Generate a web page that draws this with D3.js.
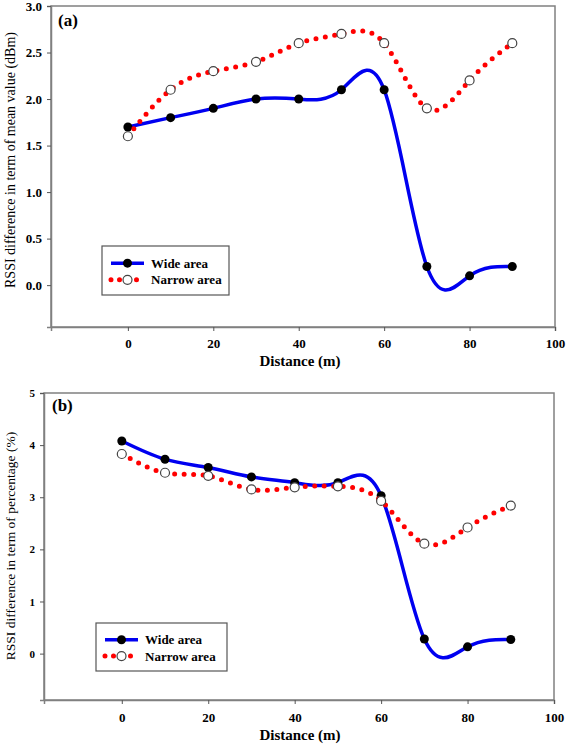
<!DOCTYPE html>
<html>
<head>
<meta charset="utf-8">
<script src="https://cdn.jsdelivr.net/npm/d3@7"></script>
<style>
  html, body { margin: 0; padding: 0; background: #fff; }
  svg { display: block; }
</style>
</head>
<body>
<svg id="chart" width="567" height="746"></svg>
<script>
// ---- Data ----
const distance = [0, 10, 20, 30, 40, 50, 60, 70, 80, 90];
const xTicks = [0, 20, 40, 60, 80, 100];

const wideA = [1.7, 1.8, 1.9, 2.0, 2.0, 2.1, 2.1, 0.2, 0.1, 0.2];
const narrowA = [1.6, 2.1, 2.3, 2.4, 2.6, 2.7, 2.6, 1.9, 2.2, 2.6];
const yTicksA = [0, 0.5, 1.0, 1.5, 2.0, 2.5, 3.0];

const wideB = [4.08, 3.73, 3.57, 3.39, 3.28, 3.28, 3.03, 0.28, 0.13, 0.27];
const narrowB = [3.83, 3.47, 3.41, 3.15, 3.19, 3.21, 2.93, 2.11, 2.42, 2.84];
const yTicksB = [0, 1, 2, 3, 4, 5];

const seriesNames = ["Wide area", "Narrow area"];
const xTitle = "Distance (m)";

const svg = d3.select("#chart");
const FONT = "'Liberation Serif', 'Times New Roman', serif";

function drawPanel(cfg) {
  const g = svg.append("g");
  const x = d3.scaleLinear().domain([-18, 100]).range([cfg.left, cfg.right]);
  const y = d3.scaleLinear().domain(cfg.yDomain).range([cfg.bottom, cfg.top]);

  // frame
  g.append("rect")
    .attr("x", cfg.left).attr("y", cfg.top)
    .attr("width", cfg.right - cfg.left).attr("height", cfg.bottom - cfg.top)
    .attr("fill", "none").attr("stroke", "#808080").attr("stroke-width", 1.5);

  // axes
  const yAxis = d3.axisLeft(y).tickValues(cfg.yTicks).tickSize(4).tickPadding(5)
    .tickFormat(cfg.yFormat);
  const ya = g.append("g").attr("transform", `translate(${cfg.left},0)`).call(yAxis);
  const xAxis = d3.axisBottom(x).tickValues(xTicks).tickSize(4).tickPadding(cfg.xPad)
    .tickFormat(d3.format("d"));
  const xa = g.append("g").attr("transform", `translate(0,${cfg.bottom})`).call(xAxis);
  [ya, xa].forEach(a => {
    a.select(".domain").attr("stroke", "#808080").attr("stroke-width", 1.5);
    a.selectAll(".tick line").attr("stroke", "#555").attr("stroke-width", 1);
    a.selectAll(".tick text").attr("fill", "#000")
      .style("font-family", FONT).style("font-weight", "bold");
  });
  ya.selectAll(".tick text").style("font-size", cfg.yFont + "px");
  xa.selectAll(".tick text").style("font-size", "13px");

  // titles
  g.append("text")
    .attr("x", 300).attr("y", cfg.xTitleY)
    .attr("text-anchor", "middle")
    .style("font-family", FONT).style("font-weight", "bold").style("font-size", "15px")
    .text(xTitle);
  g.append("text")
    .attr("transform", `translate(${cfg.yTitleX},${cfg.yTitleY}) rotate(-90)`)
    .attr("text-anchor", "middle")
    .style("font-family", FONT).style("font-size", cfg.yTitleFont + "px")
    .text(cfg.yTitle);
  g.append("text")
    .attr("x", cfg.labelX).attr("y", cfg.labelY)
    .style("font-family", FONT).style("font-weight", "bold").style("font-size", "17px")
    .text(cfg.label);

  const line = d3.line().curve(d3.curveNatural)
    .x((d, i) => x(distance[i])).y(d => y(d));

  // wide
  g.append("path").datum(cfg.wide).attr("d", line)
    .attr("fill", "none").attr("stroke", "#0000f0").attr("stroke-width", 3.5);
  g.selectAll(".wm").data(cfg.wide).enter().append("circle")
    .attr("cx", (d, i) => x(distance[i])).attr("cy", d => y(d)).attr("r", 4.5)
    .attr("fill", "#000");
  // narrow
  g.append("path").datum(cfg.narrow).attr("d", line)
    .attr("fill", "none").attr("stroke", "#ff0000").attr("stroke-width", 5)
    .attr("stroke-linecap", "round").attr("stroke-dasharray", "0 9.5");
  g.selectAll(".nm").data(cfg.narrow).enter().append("circle")
    .attr("cx", (d, i) => x(distance[i])).attr("cy", d => y(d)).attr("r", 4.5)
    .attr("fill", "#fff").attr("stroke", "#444").attr("stroke-width", 1.2);

  // legend
  const L = cfg.legend;
  g.append("rect").attr("x", L.x).attr("y", L.y).attr("width", L.w).attr("height", L.h)
    .attr("fill", "#fff").attr("stroke", "#555").attr("stroke-width", 1.2);
  const ly1 = L.y + L.h * 0.35, ly2 = L.y + L.h * 0.69;
  const lx0 = L.x + 9, lx1 = L.x + 42, lm = (lx0 + lx1) / 2;
  g.append("line").attr("x1", lx0).attr("x2", lx1).attr("y1", ly1).attr("y2", ly1)
    .attr("stroke", "#0000f0").attr("stroke-width", 3.5);
  g.append("circle").attr("cx", lm).attr("cy", ly1).attr("r", 4.5).attr("fill", "#000");
  g.append("line").attr("x1", lx0).attr("x2", lx1 + 1).attr("y1", ly2).attr("y2", ly2)
    .attr("stroke", "#ff0000").attr("stroke-width", 5)
    .attr("stroke-linecap", "round").attr("stroke-dasharray", "0 8.5");
  g.append("circle").attr("cx", lm).attr("cy", ly2).attr("r", 4.5)
    .attr("fill", "#fff").attr("stroke", "#444").attr("stroke-width", 1.2);
  [seriesNames[0], seriesNames[1]].forEach((t, i) => {
    g.append("text").attr("x", lx1 + 7).attr("y", i === 0 ? ly1 : ly2).attr("dy", "0.35em")
      .style("font-family", FONT).style("font-weight", "bold").style("font-size", "13px")
      .text(t);
  });
}

drawPanel({
  left: 51, right: 555, top: 6, bottom: 327,
  yDomain: [-0.45, 3.0], yTicks: yTicksA, yFormat: d3.format(".1f"), yFont: 13,
  xPad: 8, xTitleY: 366, yTitleX: 15, yTitleY: 160, yTitleFont: 14,
  yTitle: "RSSI difference in term of mean value (dBm)", label: "(a)",
  labelX: 58, labelY: 26,
  wide: wideA, narrow: narrowA,
  legend: { x: 102, y: 246, w: 127, h: 49 }
});
drawPanel({
  left: 44, right: 554, top: 393, bottom: 700,
  yDomain: [-0.89, 5], yTicks: yTicksB, yFormat: d3.format("d"), yFont: 11,
  xPad: 9, xTitleY: 740, yTitleX: 15, yTitleY: 546, yTitleFont: 13.5,
  yTitle: "RSSI difference in term of percentage (%)", label: "(b)",
  labelX: 52, labelY: 411,
  wide: wideB, narrow: narrowB,
  legend: { x: 96, y: 623, w: 131, h: 48 }
});
</script>
</body>
</html>
